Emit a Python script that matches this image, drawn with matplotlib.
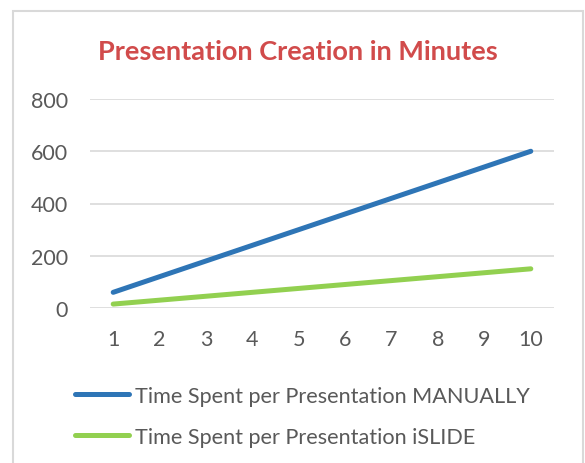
import matplotlib.pyplot as plt
from matplotlib.patches import Rectangle

presentations = [1, 2, 3, 4, 5, 6, 7, 8, 9, 10]
manual_minutes = [60, 120, 180, 240, 300, 360, 420, 480, 540, 600]
islide_minutes = [15, 30, 45, 60, 75, 90, 105, 120, 135, 150]
series_labels = ["Time Spent per Presentation MANUALLY",
                 "Time Spent per Presentation iSLIDE"]
y_ticks = [0, 200, 400, 600, 800]

plt.rcParams['font.family'] = ['Lato', 'DejaVu Sans']
W, H = 585, 464
fig = plt.figure(figsize=(W / 100, H / 100), dpi=100)
fig.patch.set_facecolor('white')

# chart frame
fig.patches.append(Rectangle((13 / W, -0.05), 570 / W, 1 - 12 / H + 0.05,
                             transform=fig.transFigure, fill=False,
                             edgecolor='#D9D9D9', linewidth=1.5))

ax = fig.add_axes([90 / W, 1 - 309 / H, 464 / W, 209 / H])
ax.plot(presentations, manual_minutes, color='#2E75B6', linewidth=3.6,
        solid_capstyle='round', label=series_labels[0])
ax.plot(presentations, islide_minutes, color='#92D050', linewidth=3.6,
        solid_capstyle='round', label=series_labels[1])

ax.set_xlim(0.5, 10.5)
ax.set_ylim(0, 800)
ax.set_yticks(y_ticks)
ax.set_xticks(presentations)
ax.grid(axis='y', color='#D9D9D9', linewidth=1.2)
ax.set_axisbelow(True)
for s in ax.spines.values():
    s.set_visible(False)
ax.tick_params(length=0, labelsize=15.5, colors='#595959')
ax.tick_params(axis='y', pad=16)
ax.tick_params(axis='x', pad=15)

fig.text(298 / W, 1 - 52 / H, "Presentation Creation in Minutes",
         ha='center', va='center', fontsize=19.5, fontweight='bold',
         color='#D14B4B')

handles, labels = ax.get_legend_handles_labels()
fig.legend(handles, labels, loc='upper left',
           bbox_to_anchor=(75 / W, 1 - 387 / H), frameon=False,
           borderpad=0, borderaxespad=0,
           fontsize=15.6, labelcolor='#595959', handlelength=2.5,
           handletextpad=0.25, labelspacing=0.95)

fig.savefig('out.png', dpi=100)
